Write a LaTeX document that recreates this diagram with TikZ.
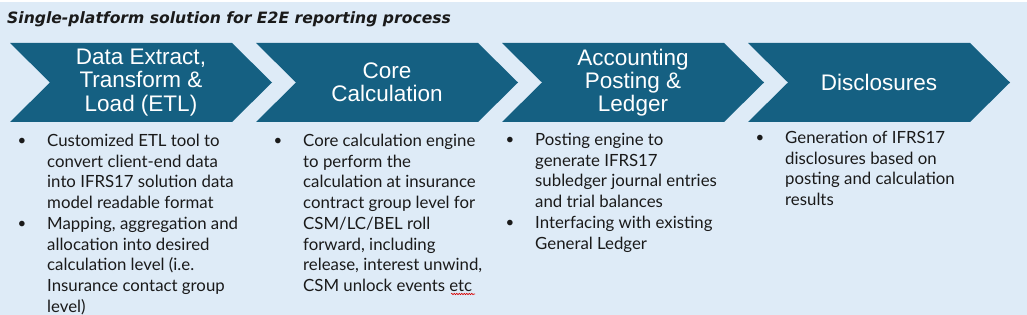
\documentclass[tikz,border=0pt]{standalone}
\usepackage{fontspec}
\setmainfont{Liberation Sans}
\newfontfamily\bodyfont{Lato}
\newfontfamily\titlefont{DejaVu Sans}
\usetikzlibrary{decorations.pathmorphing}
\definecolor{bg}{HTML}{DEEBF7}
\definecolor{chev}{HTML}{156082}
\definecolor{ink}{HTML}{1A1A1A}
\tikzset{
  chevfill/.style={fill=chev},
  chevtext/.style={text=white, align=center, inner sep=0pt,
    font=\fontsize{22.5}{23.2}\selectfont},
  bodytext/.style={text=ink, align=left, inner sep=0pt, anchor=north west,
    font=\bodyfont\fontsize{16.8}{20.7}\selectfont},
  bulletmark/.style={text=ink, inner sep=0pt, anchor=base,
    font=\bodyfont\fontsize{15}{20.7}\selectfont},
}
\begin{document}
\begin{tikzpicture}[x=1pt,y=-1pt]
\useasboundingbox (0,0) rectangle (1027,315);
\fill[white] (0,0) rectangle (1027,315);
\fill[bg] (0,2.5) rectangle (1027,315);

% title
\node[anchor=base west, inner sep=0pt, text=ink,
  font=\titlefont\bfseries\itshape\fontsize{15.6}{18}\selectfont] (title) at (7,23.3)
  {Single-platform solution for E2E reporting process};

% chevrons
\foreach \i/\xo in {1/10,2/256,3/502,4/748}{
  \fill[chevfill] (\xo,43) -- ++(222,0) -- ++(40,39.5) -- ++(-40,39.5)
     -- ++(-222,0) -- ++(40,-39.5) -- cycle;
  \coordinate (c\i) at (\xo+131,82.5);
}
\node[chevtext] (h1) at (c1) {Data Extract,\\Transform \&\\Load (ETL)};
\node[chevtext] (h2) at (c2) {Core\\Calculation};
\node[chevtext] (h3) at (c3) {Accounting\\Posting \&\\Ledger};
\node[chevtext] (h4) at (c4) {Disclosures};

% column 1
\node[bulletmark] (b11) at (22,146) {•};
\node[bodytext] (t11) at (47,134) {Customized ETL tool to\\convert client-end data\\into IFRS17 solution data\\model readable format};
\node[bulletmark] (b12) at (22,228.8) {•};
\node[bodytext] (t12) at (47,216.8) {Mapping, aggregation and\\allocation into desired\\calculation level (i.e.\\Insurance contact group\\level)};

% column 2
\node[bulletmark] (b21) at (278,146) {•};
\node[bodytext] (t21) at (303,134) {Core calculation engine\\to perform the\\calculation at insurance\\contract group level for\\CSM/LC/BEL roll\\forward, including\\release, interest unwind,\\CSM unlock events etc};
\draw[red!85!black, line width=0.6pt, decorate,
  decoration={snake, amplitude=0.7pt, segment length=2.5pt}]
  (451,294) -- (475,294);

% column 3
\node[bulletmark] (b31) at (510,145) {•};
\node[bodytext] (t31) at (535,133) {Posting engine to\\generate IFRS17\\subledger journal entries\\and trial balances};
\node[bulletmark] (b32) at (510,227.8) {•};
\node[bodytext] (t32) at (535,215.8) {Interfacing with existing\\General Ledger};

% column 4
\node[bulletmark] (b41) at (760,143) {•};
\node[bodytext] (t41) at (785,131) {Generation of IFRS17\\disclosures based on\\posting and calculation\\results};
\end{tikzpicture}
\end{document}
